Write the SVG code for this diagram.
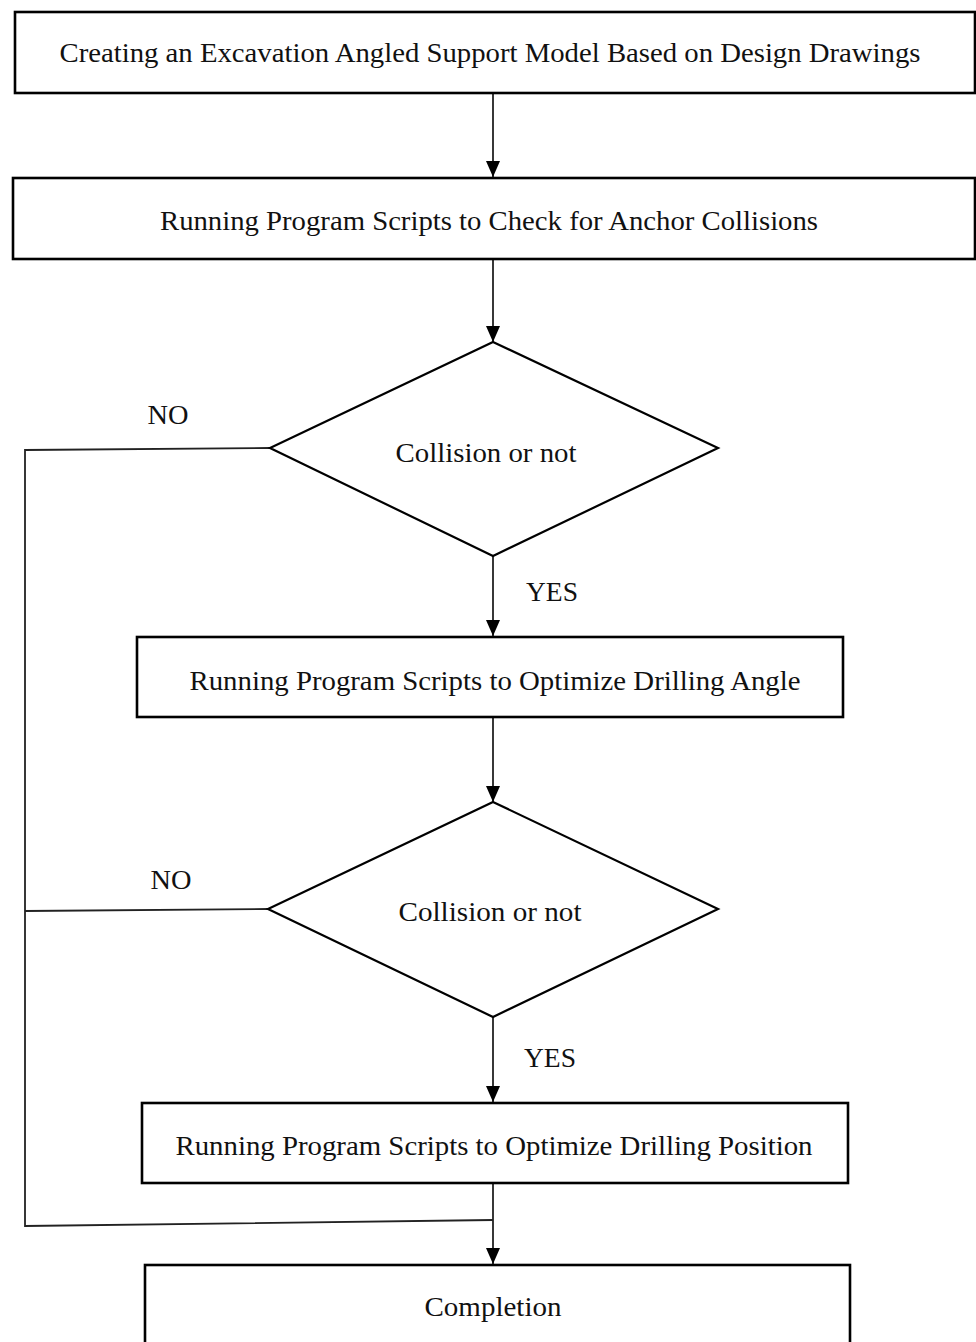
<svg xmlns="http://www.w3.org/2000/svg" width="976" height="1342" viewBox="0 0 976 1342">
<style>
.box{fill:#fff;stroke:#000;stroke-width:2.6}
.dia{fill:#fff;stroke:#000;stroke-width:2.2}
.ln{fill:none;stroke:#222;stroke-width:1.8}
text{font-family:"Liberation Serif","Times New Roman",serif;font-size:28px;fill:#111;text-anchor:middle}
</style>
<defs>
<marker id="ah" viewBox="0 0 16 14" refX="16" refY="7" markerWidth="16" markerHeight="14" markerUnits="userSpaceOnUse" orient="auto">
<path d="M0,0 L16,7 L0,14 Z" fill="#000"/>
</marker>
</defs>
<g id="connectors">
<line class="ln" x1="493" y1="93" x2="493" y2="177" marker-end="url(#ah)"/>
<line class="ln" x1="493" y1="259" x2="493" y2="342" marker-end="url(#ah)"/>
<line class="ln" x1="493" y1="556" x2="493" y2="636" marker-end="url(#ah)"/>
<line class="ln" x1="493" y1="717" x2="493" y2="802" marker-end="url(#ah)"/>
<line class="ln" x1="493" y1="1017" x2="493" y2="1102" marker-end="url(#ah)"/>
<line class="ln" x1="493" y1="1183" x2="493" y2="1264" marker-end="url(#ah)"/>
<polyline class="ln" points="270,448 25,450 25,1226 493,1220"/>
<line class="ln" x1="268" y1="909" x2="25" y2="911"/>
<text x="168" y="424" textLength="41" lengthAdjust="spacingAndGlyphs">NO</text>
<text x="552" y="601" textLength="52" lengthAdjust="spacingAndGlyphs">YES</text>
<text x="171" y="889" textLength="41" lengthAdjust="spacingAndGlyphs">NO</text>
<text x="550" y="1067" textLength="52" lengthAdjust="spacingAndGlyphs">YES</text>
</g>
<g id="n1">
<rect class="box" x="15" y="12" width="960" height="81"/>
<text x="490" y="62" textLength="861" lengthAdjust="spacingAndGlyphs">Creating an Excavation Angled Support Model Based on Design Drawings</text>
</g>
<g id="n2">
<rect class="box" x="13" y="178" width="962" height="81"/>
<text x="489" y="230" textLength="658" lengthAdjust="spacingAndGlyphs">Running Program Scripts to Check for Anchor Collisions</text>
</g>
<g id="d1">
<polygon class="dia" points="493,342 718,448 493,556 270,448"/>
<text x="486" y="462" textLength="181" lengthAdjust="spacingAndGlyphs">Collision or not</text>
</g>
<g id="n3">
<rect class="box" x="137" y="637" width="706" height="80"/>
<text x="495" y="690" textLength="611" lengthAdjust="spacingAndGlyphs">Running Program Scripts to Optimize Drilling Angle</text>
</g>
<g id="d2">
<polygon class="dia" points="493,802 718,909 493,1017 268,909"/>
<text x="490" y="921" textLength="183" lengthAdjust="spacingAndGlyphs">Collision or not</text>
</g>
<g id="n4">
<rect class="box" x="142" y="1103" width="706" height="80"/>
<text x="494" y="1155" textLength="637" lengthAdjust="spacingAndGlyphs">Running Program Scripts to Optimize Drilling Position</text>
</g>
<g id="n5">
<rect class="box" x="145" y="1265" width="705" height="90"/>
<text x="493" y="1316" textLength="137" lengthAdjust="spacingAndGlyphs">Completion</text>
</g>
</svg>
